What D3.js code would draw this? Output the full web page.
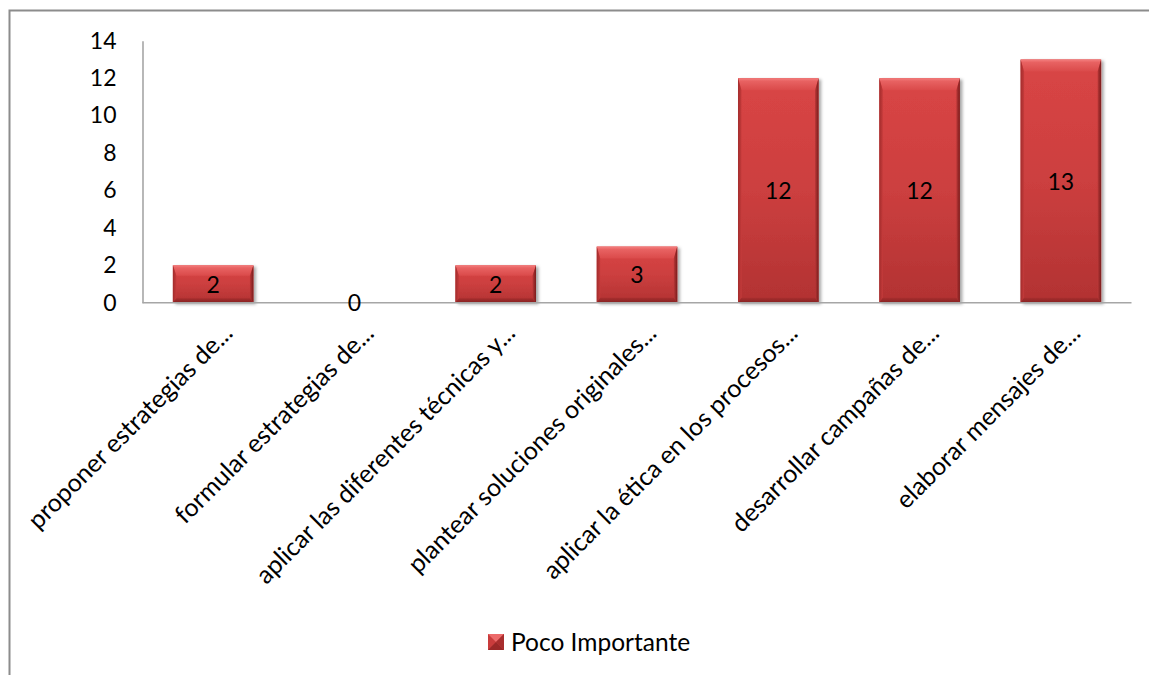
<!DOCTYPE html>
<html>
<head>
<meta charset="utf-8">
<script src="https://cdn.jsdelivr.net/npm/d3@7"></script>
<style>
  html, body { margin: 0; padding: 0; background: #fff; }
  svg { display: block; }
  text { font-family: Lato, "Noto Sans", sans-serif; fill: #000; }
</style>
</head>
<body>
<svg id="chart" width="1149" height="675"></svg>
<script>
// Chart data
const categories = [
  "proponer estrategias de...",
  "formular estrategias de...",
  "aplicar las diferentes técnicas y...",
  "plantear soluciones originales...",
  "aplicar la ética en los procesos...",
  "desarrollar campañas de...",
  "elaborar mensajes de..."
];
const values = [2, 0, 2, 3, 12, 12, 13];
const yTicks = [0, 2, 4, 6, 8, 10, 12, 14];
const seriesName = "Poco Importante";

const svg = d3.select("#chart");
const W = 1149, H = 675;
const plot = { left: 142.5, right: 1131.5, top: 40.7, bottom: 302.7 };

// Gradients for the bevelled bars
const defs = svg.append("defs");
function linGrad(id, x2, y2, stops) {
  const g = defs.append("linearGradient").attr("id", id)
    .attr("x1", 0).attr("y1", 0).attr("x2", x2).attr("y2", y2);
  stops.forEach(([o, c]) => g.append("stop").attr("offset", o).attr("stop-color", c));
}
linGrad("face", 0, 1, [[0, "#d94545"], [0.5, "#cc3f3f"], [1, "#b23232"]]);
linGrad("bevTop", 0, 1, [[0, "#f48080"], [0.25, "#e86262"], [1, "#da4a4a"]]);
linGrad("bevLeft", 1, 0, [[0, "#a32c2c"], [1, "#c53b3b"]]);
linGrad("bevRight", 1, 0, [[0, "#b93737"], [1, "#7a1c1c"]]);
linGrad("bevBottom", 0, 1, [[0, "#a82e2e"], [1, "#862222"]]);

const shadow = defs.append("filter").attr("id", "shadow")
  .attr("x", "-10%").attr("y", "-10%").attr("width", "130%").attr("height", "130%");
shadow.append("feDropShadow").attr("dx", 2.5).attr("dy", 1.5)
  .attr("stdDeviation", 1.6).attr("flood-color", "#000").attr("flood-opacity", 0.35);

// Outer chart frame
svg.append("rect")
  .attr("x", 9.5).attr("y", 10.5)
  .attr("width", W + 20).attr("height", H + 20)
  .attr("fill", "none").attr("stroke", "#8c8c8c").attr("stroke-width", 2);

// Scales
const x = d3.scaleBand()
  .domain(categories)
  .range([plot.left, plot.right])
  .paddingInner(0.43)
  .paddingOuter(0.215);
const y = d3.scaleLinear().domain([0, 14]).range([plot.bottom, plot.top]);

// Y axis
const yAxis = d3.axisLeft(y).tickValues(yTicks).tickSize(0).tickPadding(26).tickFormat(d3.format("d"));
const gy = svg.append("g").attr("transform", `translate(${plot.left},0)`).call(yAxis);
gy.select(".domain").attr("stroke", "#a6a6a6").attr("stroke-width", 1.6);
gy.selectAll(".tick text").attr("font-size", 23).attr("fill", "#000")
  .style("font-family", "Lato, 'Noto Sans', sans-serif");

// Bars
function bevelBar(g, x0, y0, w, h, t, s, b) {
  const x1 = x0 + w, y1 = y0 + h;
  g.append("rect").attr("x", x0).attr("y", y0).attr("width", w).attr("height", h)
    .attr("fill", "url(#face)").attr("filter", "url(#shadow)");
  const poly = (pts, fill) => g.append("path")
    .attr("d", "M" + pts.map(p => p.join(",")).join("L") + "Z").attr("fill", fill);
  poly([[x0, y0], [x1, y0], [x1 - s, y0 + t], [x0 + s, y0 + t]], "url(#bevTop)");
  poly([[x0, y0], [x0 + s, y0 + t], [x0 + s, y1 - b], [x0, y1]], "url(#bevLeft)");
  poly([[x1, y0], [x1, y1], [x1 - s, y1 - b], [x1 - s, y0 + t]], "url(#bevRight)");
  poly([[x0, y1], [x0 + s, y1 - b], [x1 - s, y1 - b], [x1, y1]], "url(#bevBottom)");
}

const bars = svg.append("g");
categories.forEach((c, i) => {
  const v = values[i];
  if (v <= 0) return;
  const x0 = x(c), w = x.bandwidth();
  const y0 = y(v), h = y(0) - y(v);
  const g = bars.append("g");
  bevelBar(g, x0, y0, w, h, Math.min(12, h * 0.28), 3.5, Math.min(5, h * 0.12));
});

// X axis baseline
svg.append("line")
  .attr("x1", plot.left).attr("x2", plot.right)
  .attr("y1", y(0)).attr("y2", y(0))
  .attr("stroke", "#a6a6a6").attr("stroke-width", 1.6);

// Data labels centred in each bar
svg.append("g").selectAll("text").data(categories).join("text")
  .attr("x", d => x(d) + x.bandwidth() / 2)
  .attr("y", (d, i) => y(values[i] / 2))
  .attr("dy", "0.38em")
  .attr("text-anchor", "middle")
  .attr("font-size", 23)
  .text((d, i) => values[i]);

// Rotated category labels
svg.append("g").selectAll("text").data(categories).join("text")
  .attr("text-anchor", "end")
  .attr("font-size", 25)
  .attr("transform", d => `translate(${x(d) + x.bandwidth() / 2 + 21},${y(0) + 32}) rotate(-45)`)
  .text(d => d);

// Legend
const lg = svg.append("g").attr("transform", "translate(488,634)");
const ls = 16;
lg.append("rect").attr("width", ls).attr("height", ls).attr("fill", "#c93c3c");
lg.append("path").attr("d", `M0,0L${ls},0L${ls / 2},${ls / 2}Z`).attr("fill", "#ec6a6a");
lg.append("path").attr("d", `M0,${ls}L${ls},${ls}L${ls / 2},${ls / 2}Z`).attr("fill", "#9a2828");
lg.append("path").attr("d", `M${ls},0L${ls},${ls}L${ls / 2},${ls / 2}Z`).attr("fill", "#a82e2e");
lg.append("text").attr("x", 23).attr("y", ls / 2).attr("dy", "0.36em")
  .attr("font-size", 24.5).text(seriesName);
</script>
</body>
</html>
